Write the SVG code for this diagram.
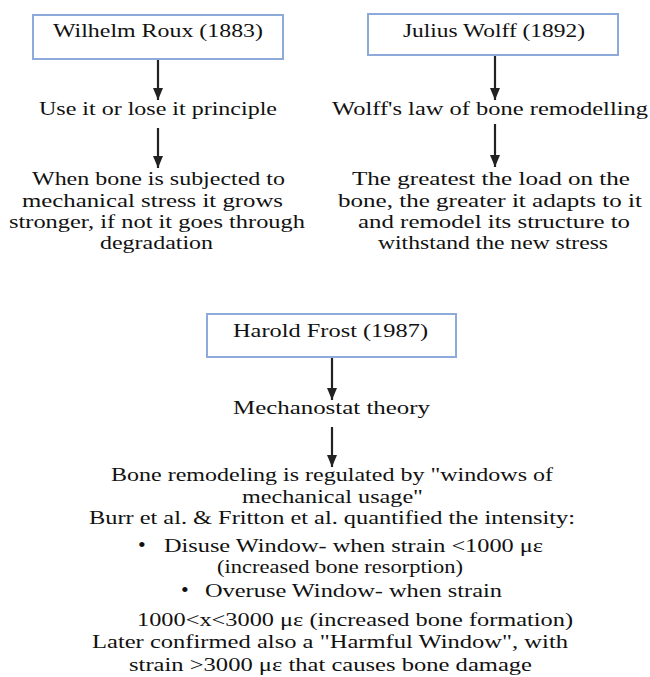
<svg xmlns="http://www.w3.org/2000/svg" width="650" height="677" viewBox="0 0 650 677">
  <defs>
    <marker id="ah" markerWidth="12" markerHeight="10" refX="12" refY="5" orient="auto" markerUnits="userSpaceOnUse" viewBox="0 0 12 10">
      <path d="M0,0 L12,5 L0,10 Z" fill="#222"/>
    </marker>
  </defs>
  <style>
    .box { fill: #ffffff; stroke: #8eaadb; stroke-width: 2; }
    text { font-family: 'Liberation Serif', 'DejaVu Serif', serif; font-size: 18.8px; fill: #111; }
    .bul { font-size: 22px; }
    .edge { stroke: #222; stroke-width: 2.2; fill: none; }
  </style>
  <rect width="650" height="677" fill="#ffffff"/>

  <g id="roux">
    <rect class="box" x="33" y="15" width="250" height="44"/>
    <text x="53" y="37" textLength="210" lengthAdjust="spacingAndGlyphs">Wilhelm Roux (1883)</text>
  </g>
  <g id="roux-principle">
    <text x="39" y="115" textLength="238" lengthAdjust="spacingAndGlyphs">Use it or lose it principle</text>
  </g>
  <g id="roux-desc">
    <text x="32" y="185" textLength="253" lengthAdjust="spacingAndGlyphs">When bone is subjected to</text>
    <text x="22" y="207" textLength="261" lengthAdjust="spacingAndGlyphs">mechanical stress it grows</text>
    <text x="9" y="228" textLength="296" lengthAdjust="spacingAndGlyphs">stronger, if not it goes through</text>
    <text x="100" y="249" textLength="113" lengthAdjust="spacingAndGlyphs">degradation</text>
  </g>

  <g id="wolff">
    <rect class="box" x="368" y="14" width="250" height="41"/>
    <text x="403" y="37" textLength="182" lengthAdjust="spacingAndGlyphs">Julius Wolff (1892)</text>
  </g>
  <g id="wolff-law">
    <text x="332" y="115" textLength="316" lengthAdjust="spacingAndGlyphs">Wolff's law of bone remodelling</text>
  </g>
  <g id="wolff-desc">
    <text x="352" y="185" textLength="278" lengthAdjust="spacingAndGlyphs">The greatest the load on the</text>
    <text x="338" y="207" textLength="304" lengthAdjust="spacingAndGlyphs">bone, the greater it adapts to it</text>
    <text x="358" y="228" textLength="272" lengthAdjust="spacingAndGlyphs">and remodel its structure to</text>
    <text x="378" y="249" textLength="230" lengthAdjust="spacingAndGlyphs">withstand the new stress</text>
  </g>

  <g id="frost">
    <rect class="box" x="207" y="314" width="249" height="43"/>
    <text x="233" y="337" textLength="195" lengthAdjust="spacingAndGlyphs">Harold Frost (1987)</text>
  </g>
  <g id="frost-theory">
    <text x="233" y="414" textLength="197" lengthAdjust="spacingAndGlyphs">Mechanostat theory</text>
  </g>
  <g id="frost-desc">
    <text x="111" y="481" textLength="442" lengthAdjust="spacingAndGlyphs">Bone remodeling is regulated by "windows of</text>
    <text x="242" y="503" textLength="181" lengthAdjust="spacingAndGlyphs">mechanical usage"</text>
    <text x="89" y="524" textLength="486" lengthAdjust="spacingAndGlyphs">Burr et al. &amp; Fritton et al. quantified the intensity:</text>
    <text class="bul" x="138" y="552">•</text>
    <text x="164" y="552" textLength="379" lengthAdjust="spacingAndGlyphs">Disuse Window- when strain &lt;1000 με</text>
    <text x="217" y="573" textLength="246" lengthAdjust="spacingAndGlyphs">(increased bone resorption)</text>
    <text class="bul" x="181" y="597">•</text>
    <text x="205" y="597" textLength="297" lengthAdjust="spacingAndGlyphs">Overuse Window- when strain</text>
    <text x="137" y="626" textLength="436" lengthAdjust="spacingAndGlyphs">1000&lt;x&lt;3000 με (increased bone formation)</text>
    <text x="92" y="648" textLength="476" lengthAdjust="spacingAndGlyphs">Later confirmed also a "Harmful Window", with</text>
    <text x="129" y="671" textLength="403" lengthAdjust="spacingAndGlyphs">strain &gt;3000 με that causes bone damage</text>
  </g>

  <g id="connectors">
    <line class="edge" x1="158" y1="60" x2="158" y2="100" marker-end="url(#ah)"/>
    <line class="edge" x1="158" y1="128" x2="158" y2="168" marker-end="url(#ah)"/>
    <line class="edge" x1="495" y1="56" x2="495" y2="100" marker-end="url(#ah)"/>
    <line class="edge" x1="495" y1="124" x2="495" y2="167" marker-end="url(#ah)"/>
    <line class="edge" x1="332" y1="358" x2="332" y2="400" marker-end="url(#ah)"/>
    <line class="edge" x1="332" y1="427" x2="332" y2="467" marker-end="url(#ah)"/>
  </g>
</svg>
